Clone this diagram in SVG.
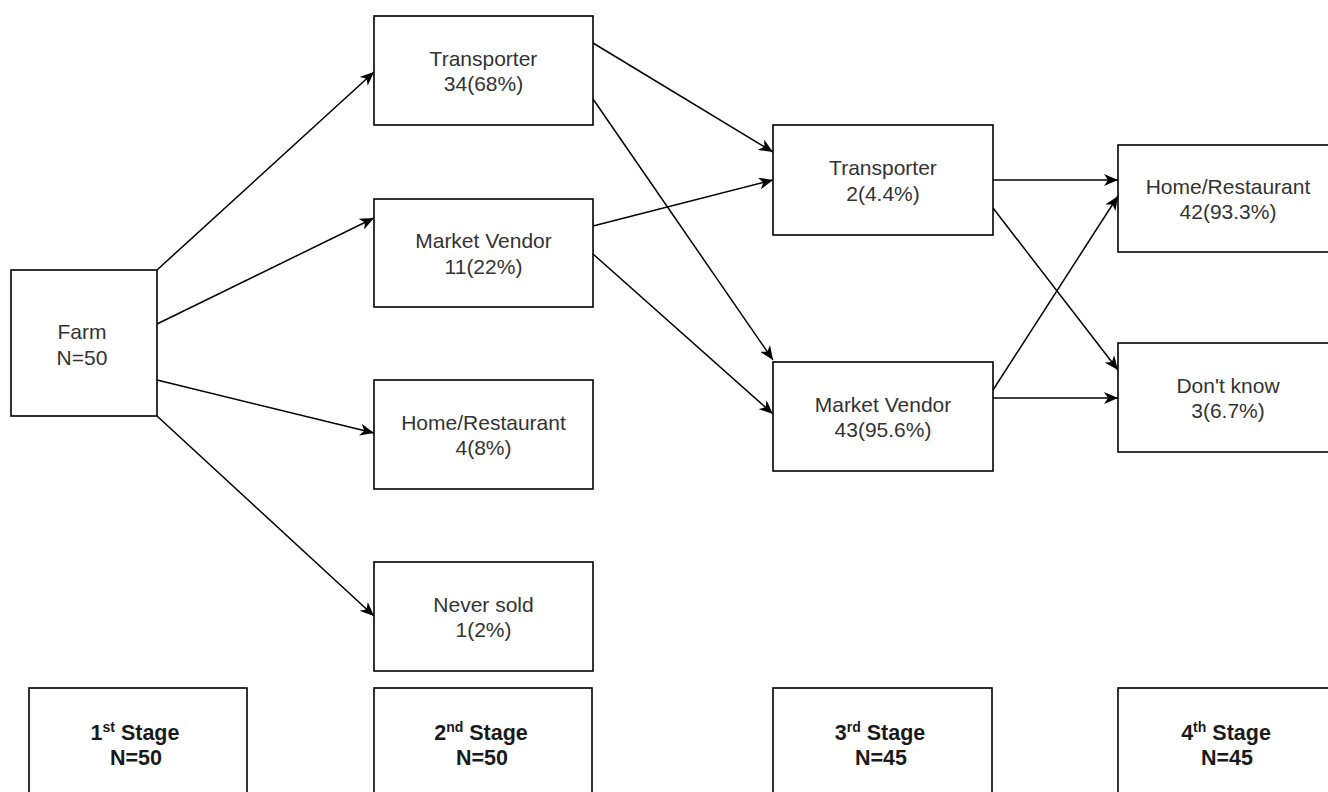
<svg xmlns="http://www.w3.org/2000/svg" width="1328" height="792" viewBox="0 0 1328 792">
<style>
.box{fill:#fff;stroke:#000;stroke-width:1.6}
.t{font-family:"Liberation Sans",Arial,sans-serif;font-size:21px;fill:#333;text-anchor:middle}
.s{font-family:"Liberation Sans",Arial,sans-serif;font-size:21.5px;font-weight:bold;fill:#1a1a1a;text-anchor:middle}
.sup{font-size:14px}
.c{stroke:#000;stroke-width:1.5;fill:none;marker-end:url(#arr)}
</style>
<defs>
<marker id="arr" markerUnits="userSpaceOnUse" markerWidth="16" markerHeight="12" refX="14" refY="6" orient="auto">
<path d="M0,0 L14,6 L0,12 L4,6 Z" fill="#000"/>
</marker>
</defs>
<rect width="1328" height="792" fill="#fff"/>
<g id="connectors">
<line class="c" x1="157" y1="270" x2="374" y2="72"/>
<line class="c" x1="157" y1="324" x2="374" y2="218"/>
<line class="c" x1="157" y1="380" x2="374" y2="433"/>
<line class="c" x1="157" y1="416" x2="374" y2="616"/>
<line class="c" x1="593" y1="43" x2="773" y2="152"/>
<line class="c" x1="593" y1="99" x2="773" y2="360"/>
<line class="c" x1="593" y1="226" x2="773" y2="180"/>
<line class="c" x1="593" y1="254" x2="773" y2="414"/>
<line class="c" x1="993" y1="180" x2="1118" y2="180"/>
<line class="c" x1="993" y1="208" x2="1118" y2="370"/>
<line class="c" x1="993" y1="390" x2="1118" y2="196"/>
<line class="c" x1="993" y1="398" x2="1118" y2="398"/>
</g>
<g id="farm"><rect class="box" x="11" y="270" width="146" height="146"/><text class="t" x="82" y="339">Farm</text><text class="t" x="82" y="365">N=50</text></g>
<g id="transporter2"><rect class="box" x="374" y="16" width="219" height="109"/><text class="t" x="483.5" y="65.5">Transporter</text><text class="t" x="483.5" y="91">34(68%)</text></g>
<g id="vendor2"><rect class="box" x="374" y="199" width="219" height="108"/><text class="t" x="483.5" y="248">Market Vendor</text><text class="t" x="483.5" y="274">11(22%)</text></g>
<g id="home2"><rect class="box" x="374" y="380" width="219" height="109"/><text class="t" x="483.5" y="429.5">Home/Restaurant</text><text class="t" x="483.5" y="455">4(8%)</text></g>
<g id="never2"><rect class="box" x="374" y="562" width="219" height="109"/><text class="t" x="483.5" y="611.5">Never sold</text><text class="t" x="483.5" y="637">1(2%)</text></g>
<g id="transporter3"><rect class="box" x="773" y="125" width="220" height="110"/><text class="t" x="883" y="175">Transporter</text><text class="t" x="883" y="201">2(4.4%)</text></g>
<g id="vendor3"><rect class="box" x="773" y="362" width="220" height="109"/><text class="t" x="883" y="411.5">Market Vendor</text><text class="t" x="883" y="437">43(95.6%)</text></g>
<g id="home4"><rect class="box" x="1118" y="145" width="220" height="107"/><text class="t" x="1228" y="193.5">Home/Restaurant</text><text class="t" x="1228" y="219">42(93.3%)</text></g>
<g id="dontknow4"><rect class="box" x="1118" y="343" width="220" height="109"/><text class="t" x="1228" y="392.5">Don't know</text><text class="t" x="1228" y="418">3(6.7%)</text></g>
<g id="stage1"><rect class="box" x="29" y="688" width="218" height="120"/><text class="s" x="135" y="740">1<tspan class="sup" dy="-8">st</tspan><tspan dy="8"> Stage</tspan></text><text class="s" x="136" y="765">N=50</text></g>
<g id="stage2"><rect class="box" x="374" y="688" width="218" height="120"/><text class="s" x="481" y="740">2<tspan class="sup" dy="-8">nd</tspan><tspan dy="8"> Stage</tspan></text><text class="s" x="482" y="765">N=50</text></g>
<g id="stage3"><rect class="box" x="773" y="688" width="219" height="120"/><text class="s" x="880" y="740">3<tspan class="sup" dy="-8">rd</tspan><tspan dy="8"> Stage</tspan></text><text class="s" x="881" y="765">N=45</text></g>
<g id="stage4"><rect class="box" x="1118" y="688" width="220" height="120"/><text class="s" x="1226" y="740">4<tspan class="sup" dy="-8">th</tspan><tspan dy="8"> Stage</tspan></text><text class="s" x="1227" y="765">N=45</text></g>
</svg>
